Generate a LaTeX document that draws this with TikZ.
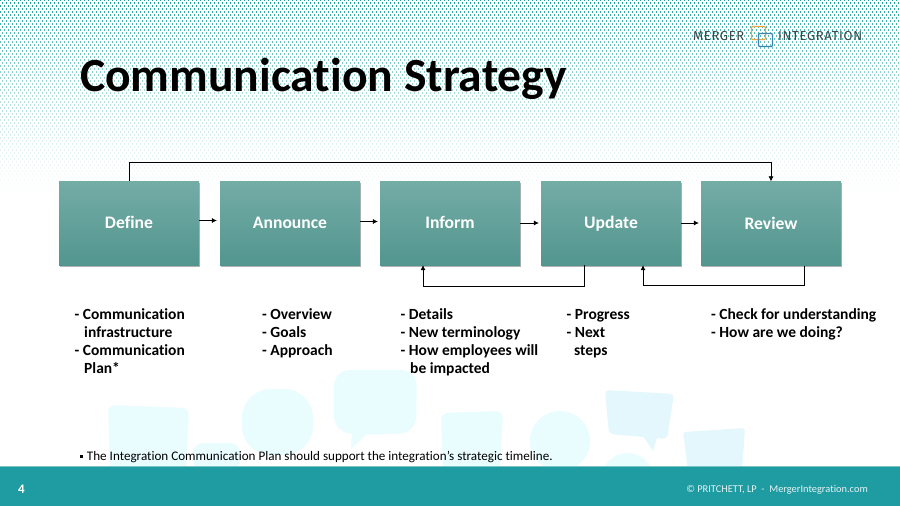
\documentclass[tikz,border=0pt]{standalone}
\usepackage{fontspec}
\setmainfont[Ligatures=NoCommon]{Carlito}
\newfontfamily\logofont[LetterSpace=5]{Fira Sans}
\usepackage{tikz}
\usetikzlibrary{calc, positioning, arrows.meta, shadows}

\definecolor{bandteal}{HTML}{1F9BA2}
\definecolor{dotteal}{HTML}{18A39C}
\definecolor{boxtop}{HTML}{74ACA6}
\definecolor{boxbottom}{HTML}{52968F}
\definecolor{bubblepale}{HTML}{E9FDFF}
\definecolor{bubbleblue}{HTML}{E3F7FD}
\definecolor{logoorange}{HTML}{F0A640}
\definecolor{logoblue}{HTML}{3F83B5}
\definecolor{logotext}{HTML}{3C4448}

\tikzset{
    stagebox/.style={minimum width=140pt, minimum height=84pt, inner sep=0pt,
        top color=boxtop, bottom color=boxbottom,
        drop shadow={shadow xshift=1pt, shadow yshift=-1.6pt, opacity=0.6},
        text=white, text height=14pt, text depth=2.5pt,
        font=\fontsize{17.6}{20}\selectfont\bfseries},
    flowarrow/.style={semithick, -{Latex[length=5pt,width=5pt]}},
    itemlist/.style={anchor=north west, inner sep=0pt, align=left,
        font=\fontsize{15.5}{18.3}\selectfont\bfseries},
    bubble/.style={fill=bubblepale, rounded corners=7pt},
}
\newcommand{\hangline}[1]{\hspace*{#1pt}}

\begin{document}
\begin{tikzpicture}[x=1pt, y=-1pt]
    \useasboundingbox (0,0) rectangle (900,506);
    \fill[white] (0,0) rectangle (900,506);

    % Halftone
    \foreach \row in {0,...,68} {
        \pgfmathsetmacro{\fade}{max(0,1-\row/68)^1.6}
        \pgfmathsetmacro{\phase}{mod(\row,2)*2}
        \draw[dotteal, opacity=\fade, line width=1.15pt,
            dash pattern=on 1.15pt off 2.85pt, dash phase=\phase pt]
            (0,{\row*3}) -- (900,{\row*3});
    }

    % Speech bubbles
    \fill[bubble] (108,405) -- (189,408) -- (186,470) -- (110,470) -- cycle;
    \fill[bubble, rounded corners=10pt] (193,443) -- (240,443) -- (240,470) -- (193,470) -- cycle;
    \fill[bubble, rounded corners=29pt] (242,389) rectangle (313,455);
    \fill[bubble, rounded corners=16pt] (334,370) -- (417,370) -- (416,433) -- (365,435) -- (334,432) -- cycle;
    \fill[bubblepale] (352,430) -- (351,449) -- (368,433) -- cycle;
    \fill[bubble] (441,413) -- (503,411) -- (500,470) -- (443,470) -- cycle;
    \fill[bubblepale] (560,441) circle (30);
    \fill[bubbleblue, rounded corners=4pt] (605,390) -- (674,394) -- (667,439) -- (609,434) -- cycle;
    \fill[bubbleblue] (643,436) -- (653,451) -- (657,438) -- cycle;
    \fill[bubblepale] (627.5,479) circle (26);
    \fill[bubbleblue, rounded corners=3pt] (683,432) -- (745,428) -- (742,470) -- (688,470) -- cycle;

    % Footer
    \fill[bandteal] (0,466) rectangle (900,506);
    \draw[bandteal!60!white, thin] (0,466) -- (900,466);
    \node[text=white, font=\fontsize{13}{15}\selectfont\bfseries] (pagenum) at (21.5,489) {4};
    \node[anchor=east, inner sep=0pt, text=white!88!bandteal, font=\fontsize{10.4}{13}\selectfont] (copyright) at (868,490)
        {© PRITCHETT, LP\ \ -\ \ MergerIntegration.com};

    % Logo
    \draw[logoorange, line width=1.4pt, rounded corners=1pt] (751.5,26.5) rectangle (765.5,39.5);
    \draw[logoblue, line width=1.4pt, rounded corners=1pt] (758.5,33.5) rectangle (772.5,46.5);
    \node[anchor=west, inner sep=0pt, text=logotext, font=\logofont\fontsize{13}{15}\selectfont] (logoleft) at (693,36.5) {MERGER};
    \node[anchor=west, inner sep=0pt, text=logotext, font=\logofont\fontsize{13}{15}\selectfont] (logoright) at (778,36.5) {INTEGRATION};

    % Title
    \node[anchor=base west, inner sep=0pt, font=\fontsize{47.6}{52}\selectfont\bfseries] (title) at (80,91) {Communication Strategy};

    % Stages
    \node[stagebox] (define) at (129,223) {Define};
    \node[stagebox] (announce) at (290,223) {Announce};
    \node[stagebox] (inform) at (450,223) {Inform};
    \node[stagebox] (update) at (611,223) {Update};
    \node[stagebox] (review) at (771,223.5) {Review};

    % Forward arrows
    \draw[flowarrow, shorten >=3pt] ([yshift=2.5pt]define.east) -- ([yshift=2.5pt]announce.west);
    \draw[flowarrow, shorten >=2pt] ([yshift=1.5pt]announce.east) -- ([yshift=1.5pt]inform.west);
    \draw[flowarrow, shorten >=2pt] (inform.east) -- (update.west);
    \draw[flowarrow, shorten >=2pt] (update.east) -- (update.east -| review.west);

    % Feedback arrows
    \draw[flowarrow] (define.north) -- ++(0,-19) -| (review.north);
    \draw[flowarrow] ([xshift=-27pt]update.south) -- ++(0,21) -| ([xshift=-27pt]inform.south);
    \draw[flowarrow] ([xshift=33pt]review.south) -- ++(0,20) -| ([xshift=32pt]update.south);

    % Lists
    \node[itemlist] (listdefine) at (74.5,308) {- Communication\\\hangline{9.5}infrastructure\\- Communication\\\hangline{9.5}Plan*};
    \node[itemlist] (listannounce) at (262,308) {- Overview\\- Goals\\- Approach};
    \node[itemlist] (listinform) at (400.5,308) {- Details\\- New terminology\\- How employees will\\\hangline{9.5}be impacted};
    \node[itemlist] (listupdate) at (566.5,309) {- Progress\\- Next\\\hangline{7.5}steps};
    \node[itemlist] (listreview) at (711,308) {- Check for understanding\\- How are we doing?};

    % Footnote
    \node[anchor=base west, inner sep=0pt, font=\fontsize{13.1}{15}\selectfont] (footnote) at (80,460)
        {\raisebox{2.5pt}{\rule{2.6pt}{2.6pt}}\hspace{1.2pt} The Integration Communication Plan should support the integration’s strategic timeline.};
\end{tikzpicture}
\end{document}
